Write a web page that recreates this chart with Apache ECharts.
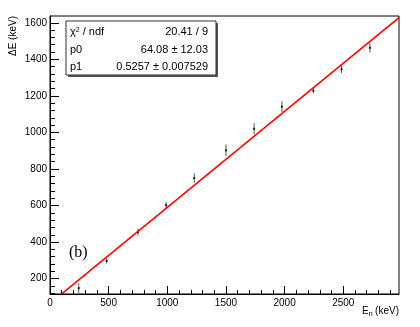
<!DOCTYPE html>
<html>
<head>
<meta charset="utf-8">
<script src="https://cdn.jsdelivr.net/npm/echarts@6.0.0/dist/echarts.min.js"></script>
<style>
  html, body { margin: 0; padding: 0; background: #fff; }
  #chart { width: 420px; height: 327px; }
</style>
</head>
<body>
<div id="chart"></div>
<script>
    // measured points (neutron energy vs energy deposit)
    const energyN = [245, 483, 750, 990, 1230, 1500, 1740, 1977, 2245, 2485, 2727];
    const deltaE = [148, 297, 455, 602, 750, 902, 1020, 1141, 1228, 1345, 1463];
    const deltaErr = [26, 14, 20, 17, 26, 32, 30, 29, 14, 20, 26];

    // fit line end points (p0 + p1*x)
    const fitX = [100, 2975];
    const fitY = [116.7, 1628.0];

    // axis ticks
    const xTicks = [0, 500, 1000, 1500, 2000, 2500];
    const yTicks = [200, 400, 600, 800, 1000, 1200, 1400, 1600];
    const xMinor = [];
    for (let v = 100; v < 2975; v += 100) { if (v % 500) xMinor.push(v); }
    const yMinor = [];
    for (let v = 120; v < 1637; v += 40) { if (v % 200) yMinor.push(v); }

    const font = 'Liberation Sans';
    const xMin = 0, xMax = 2975, yMin = 116, yMax = 1637;

    const myChart = echarts.init(document.getElementById('chart'));

    const baseAxis = {
        type: 'value',
        splitLine: { show: false },
        axisLine: { show: true, onZero: false, lineStyle: { color: '#000', width: 1 } }
    };

    myChart.setOption({
        animation: false,
        grid: {
            left: 50, right: 21, top: 16, bottom: 33,
            show: true, borderColor: '#000', borderWidth: 1,
            outerBoundsMode: 'none'
        },
        xAxis: [
            Object.assign({}, baseAxis, {
                position: 'bottom', min: xMin, max: xMax,
                axisTick: { inside: true, length: 8, customValues: xTicks, lineStyle: { color: '#000' } },
                axisLabel: { customValues: xTicks, fontFamily: font, fontSize: 10, color: '#000', margin: 4,
                             formatter: v => String(v) }
            }),
            {
                type: 'value', position: 'bottom', offset: 0, min: xMin, max: xMax,
                splitLine: { show: false },
                axisLine: { show: false },
                axisLabel: { show: false },
                axisTick: { inside: true, length: 4, customValues: xMinor, lineStyle: { color: '#000' } }
            }
        ],
        yAxis: [
            Object.assign({}, baseAxis, {
                position: 'left', min: yMin, max: yMax,
                axisTick: { inside: true, length: 9, customValues: yTicks, lineStyle: { color: '#000' } },
                axisLabel: { customValues: yTicks, fontFamily: font, fontSize: 10, color: '#000', margin: 3,
                             formatter: v => String(v) }
            }),
            {
                type: 'value', position: 'left', offset: 0, min: yMin, max: yMax,
                splitLine: { show: false },
                axisLine: { show: false },
                axisLabel: { show: false },
                axisTick: { inside: true, length: 5, customValues: yMinor, lineStyle: { color: '#000' } }
            }
        ],
        series: [
            {
                name: 'data',
                type: 'custom',
                xAxisIndex: 0, yAxisIndex: 0,
                data: energyN.map((x, i) => [x, deltaE[i], deltaErr[i]]),
                encode: { x: 0, y: 1 },
                z: 2,
                renderItem: function (params, api) {
                    const x = api.value(0), y = api.value(1), e = api.value(2);
                    const top = api.coord([x, y + e]);
                    const bot = api.coord([x, y - e]);
                    const c = api.coord([x, y]);
                    return {
                        type: 'group',
                        children: [
                            { type: 'line', shape: { x1: top[0], y1: top[1], x2: bot[0], y2: bot[1] },
                              style: { stroke: '#555', lineWidth: 1 } },
                            { type: 'rect', shape: { x: c[0] - 1, y: c[1] - 1, width: 2, height: 2 },
                              style: { fill: '#222' } }
                        ]
                    };
                }
            },
            {
                name: 'fit',
                type: 'line',
                xAxisIndex: 0, yAxisIndex: 0,
                data: fitX.map((x, i) => [x, fitY[i]]),
                symbol: 'none',
                clip: true,
                z: 3,
                lineStyle: { color: '#ff0000', width: 1.6 }
            }
        ],
        graphic: [
            // y axis title
            {
                type: 'text', x: 13, y: 16, rotation: Math.PI / 2,
                style: { text: 'ΔE (keV)', font: '10px "Liberation Sans"', fill: '#000', align: 'right', verticalAlign: 'middle' }
            },
            // x axis title E_n (keV)
            {
                type: 'text', x: 362, y: 311,
                style: { text: 'E', font: '10px "Liberation Sans"', fill: '#000', align: 'left', verticalAlign: 'middle' }
            },
            {
                type: 'text', x: 368.7, y: 314,
                style: { text: 'n', font: '7px "Liberation Sans"', fill: '#000', align: 'left', verticalAlign: 'middle' }
            },
            {
                type: 'text', x: 399, y: 311,
                style: { text: ' (keV)', font: '10px "Liberation Sans"', fill: '#000', align: 'right', verticalAlign: 'middle' }
            },
            // (b) label
            {
                type: 'text', x: 69, y: 253,
                style: { text: '(b)', font: '16px "Liberation Serif"', fill: '#000', align: 'left', verticalAlign: 'middle' }
            },
            // stats box shadow + box
            {
                type: 'rect', shape: { x: 68, y: 23, width: 150, height: 54 },
                style: { fill: '#555' }, z: 10
            },
            {
                type: 'rect', shape: { x: 66, y: 21, width: 150, height: 54 },
                style: { fill: '#fff', stroke: '#333', lineWidth: 1 }, z: 11
            },
            {
                type: 'text', x: 70, y: 32, z: 12,
                style: {
                    text: '{a|χ}{s|2}{a| / ndf}',
                    align: 'left', verticalAlign: 'middle',
                    rich: {
                        a: { font: '11px "Liberation Sans"', fill: '#000', verticalAlign: 'bottom' },
                        s: { font: '7px "Liberation Sans"', fill: '#000', verticalAlign: 'top' }
                    }
                }
            },
            {
                type: 'text', x: 208, y: 32, z: 12,
                style: { text: '20.41 / 9', font: '11px "Liberation Sans"', fill: '#000', align: 'right', verticalAlign: 'middle' }
            },
            {
                type: 'text', x: 70, y: 50, z: 12,
                style: { text: 'p0', font: '11px "Liberation Sans"', fill: '#000', align: 'left', verticalAlign: 'middle' }
            },
            {
                type: 'text', x: 208, y: 50, z: 12,
                style: { text: '64.08 ± 12.03', font: '11px "Liberation Sans"', fill: '#000', align: 'right', verticalAlign: 'middle' }
            },
            {
                type: 'text', x: 70, y: 67, z: 12,
                style: { text: 'p1', font: '11px "Liberation Sans"', fill: '#000', align: 'left', verticalAlign: 'middle' }
            },
            {
                type: 'text', x: 208, y: 67, z: 12,
                style: { text: '0.5257 ± 0.007529', font: '11px "Liberation Sans"', fill: '#000', align: 'right', verticalAlign: 'middle' }
            }
        ]
    });
</script>
</body>
</html>
